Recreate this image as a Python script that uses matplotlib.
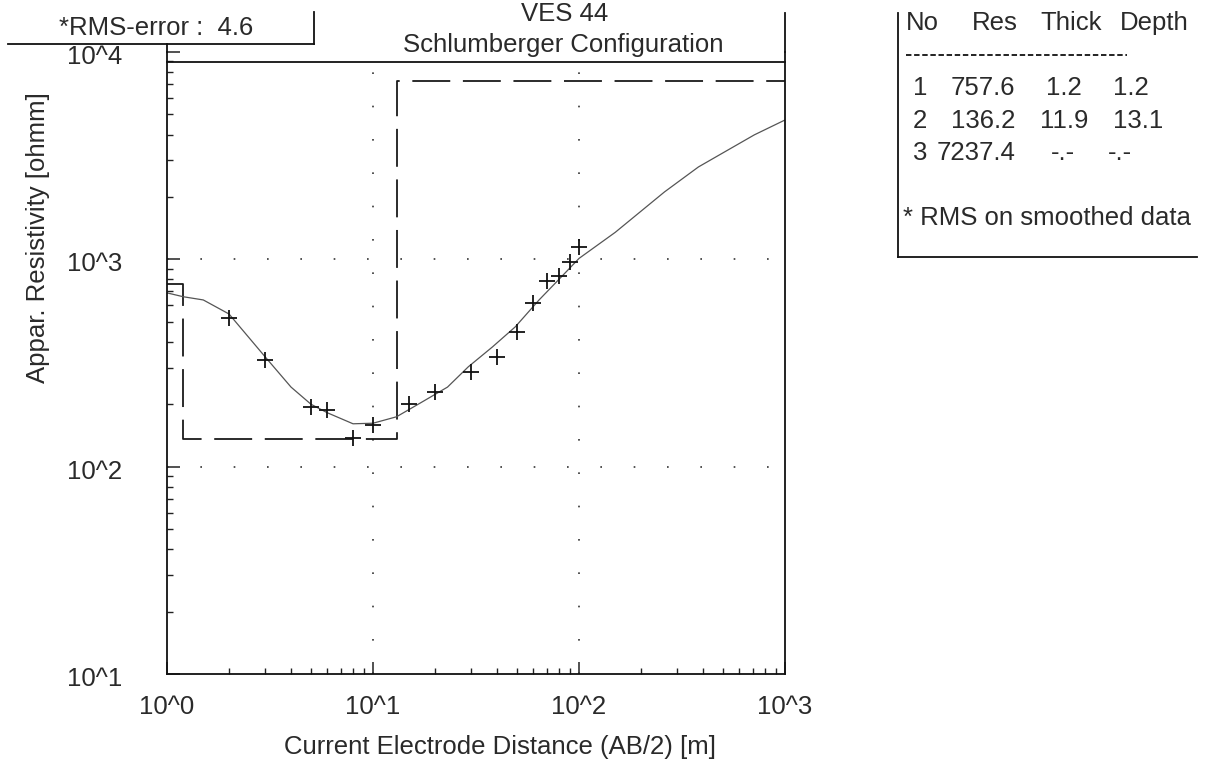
import numpy as np
import matplotlib
matplotlib.use("Agg")
import matplotlib.pyplot as plt
from matplotlib.lines import Line2D
from matplotlib.transforms import ScaledTranslation
from matplotlib.ticker import LogLocator, NullFormatter, FuncFormatter

# observed sounding data (AB/2 [m], apparent resistivity [ohmm])
ab2_obs = [2, 3, 5, 6, 8, 10, 15, 20, 30, 40, 50, 60, 70, 80, 90, 100]
rho_obs = [521, 327, 194, 188, 137, 159, 201, 229, 286, 338, 447, 617, 787, 832, 971, 1148]

# calculated model curve
ab2_fit = [1, 1.2, 1.5, 2, 3, 4, 5, 6, 8, 10, 13, 17, 23, 29, 38, 49, 64, 82,
           100, 150, 260, 380, 510, 710, 1000]
rho_fit = [689, 660, 637, 545, 338, 242, 200, 182, 161, 162, 174, 203, 242, 303,
           378, 472, 637, 822, 1010, 1350, 2114, 2790, 3300, 3985, 4700]

# layered model
layer_res = [757.6, 136.2, 7237.4]
layer_thick = [1.2, 11.9]
layer_depth = [1.2, 13.1]

x_decades = [1, 10, 100, 1000]
y_decades = [10, 100, 1000, 10000]
grid_x = [10, 100]
grid_y = [100, 1000]

W, H = 1211, 761
FS = 18.5
TXT = "#2a2a2a"
plt.rcParams["font.family"] = ["Liberation Sans", "DejaVu Sans"]


def fx(x):
    return x / W


def fy(y):
    return 1 - y / H


def fig_line(xs, ys, **kw):
    fig.add_artist(Line2D([fx(v) for v in xs], [fy(v) for v in ys],
                          transform=fig.transFigure, color="#111", lw=1.3, **kw))


fig = plt.figure(figsize=(W / 100, H / 100), dpi=100)
ax = fig.add_axes([fx(167), fy(674), (785 - 167) / W, (674 - 52) / H])
ax.set_xscale("log")
ax.set_yscale("log")
ax.set_xlim(1, 1000)
ax.set_ylim(10, 1e4)
ax.spines["top"].set_visible(False)
for s in ["left", "bottom", "right"]:
    ax.spines[s].set_linewidth(1.3)
    ax.spines[s].set_color("#111")

# dotted grid
for v in grid_x:
    ax.axvline(v, color="#333", lw=1.2, ls=(0, (1, 19)))
for v in grid_y:
    ax.axhline(v, color="#333", lw=1.2, ls=(0, (1, 19)))

# model step line
step_x = [1, layer_depth[0], layer_depth[0], layer_depth[1], layer_depth[1], 1000]
step_y = [layer_res[0], layer_res[0], layer_res[1], layer_res[1], layer_res[2], layer_res[2]]
ax.plot(step_x, step_y, color="#1a1a1a", lw=1.3, dashes=(21, 7))

ax.plot(ab2_fit, rho_fit, color="#555555", lw=0.9)
ax.plot(ab2_obs, rho_obs, "+", color="#111", ms=12, mew=1.3)

fmt = FuncFormatter(lambda v, p: "10^%d" % int(round(np.log10(v))))
for axis in [ax.xaxis, ax.yaxis]:
    axis.set_major_locator(LogLocator(base=10, numticks=10))
    axis.set_minor_locator(LogLocator(base=10, subs=np.arange(2, 10), numticks=10))
    axis.set_minor_formatter(NullFormatter())
    axis.set_major_formatter(fmt)
ax.tick_params(which="both", direction="in", top=False, right=False, color="#222",
               labelsize=FS, labelcolor=TXT)
ax.tick_params(which="major", length=9, width=1.1)
ax.tick_params(which="minor", length=4, width=1.0)
ax.tick_params(axis="x", pad=15)
ax.tick_params(axis="y", labelleft=False)

# y tick labels sit slightly below their ticks in the original
ylab_tr = ax.get_yaxis_transform() + ScaledTranslation(-0.45, -0.05, fig.dpi_scale_trans)
for v in y_decades:
    ax.text(0, v, fmt(v, None), transform=ylab_tr, fontsize=FS, color=TXT,
            ha="right", va="center")

# frame pieces outside the axes
fig_line([167, 167], [44, 52])
fig_line([785, 785], [13, 52])
fig_line([167, 785], [62, 62])
fig_line([8, 314], [44, 44])
fig_line([314, 314], [12, 44])
fig_line([898, 898], [13, 257])
fig_line([898, 1197], [257, 257])
fig_line([906, 1127], [55, 55], dashes=(3, 1.5))

fig.text(fx(59), fy(28), "*RMS-error :  4.6", fontsize=FS, color=TXT, ha="left", va="center")
fig.text(fx(565), fy(21), "VES 44", fontsize=FS, color=TXT, ha="center", va="baseline")
fig.text(fx(563), fy(45), "Schlumberger Configuration", fontsize=FS, color=TXT,
         ha="center", va="center")
fig.text(fx(500), fy(747), "Current Electrode Distance (AB/2) [m]", fontsize=FS,
         color=TXT, ha="center", va="center")
fig.text(fx(38), fy(238), "Appar. Resistivity [ohmm]", fontsize=FS, color=TXT,
         ha="center", va="center", rotation=90)

# layer table
header = [("No", 906), ("Res", 972), ("Thick", 1040), ("Depth", 1120)]
for s, x in header:
    fig.text(fx(x), fy(23), s, fontsize=FS, color=TXT, ha="left", va="center")
row_y = [88, 121, 153]
for i, y in enumerate(row_y):
    fig.text(fx(913), fy(y), str(i + 1), fontsize=FS, color=TXT, ha="left", va="center")
    fig.text(fx(1015), fy(y), "%.1f" % layer_res[i], fontsize=FS, color=TXT,
             ha="right", va="center")
    if i < len(layer_thick):
        fig.text(fx(1064), fy(y), "%.1f" % layer_thick[i], fontsize=FS, color=TXT,
                 ha="center", va="center")
        fig.text(fx(1113), fy(y), "%.1f" % layer_depth[i], fontsize=FS, color=TXT,
                 ha="left", va="center")
    else:
        fig.text(fx(1063), fy(y), "-.-", fontsize=FS, color=TXT, ha="center", va="center")
        fig.text(fx(1108), fy(y), "-.-", fontsize=FS, color=TXT, ha="left", va="center")
fig.text(fx(903), fy(218), "* RMS on smoothed data", fontsize=FS, color=TXT,
         ha="left", va="center")

fig.savefig("out.png", dpi=100)
